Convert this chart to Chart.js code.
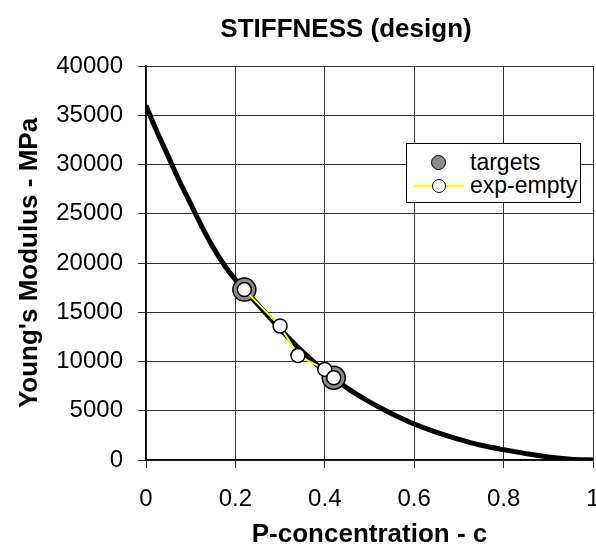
<!DOCTYPE html>
<html lang="en">
<head>
  <meta charset="UTF-8">
  <title>STIFFNESS (design)</title>
  <script src="https://cdn.jsdelivr.net/npm/chart.js"></script>
  <style>
    body { margin: 0; background: #fff; }
    #wrap { position: relative; width: 596px; height: 545px; overflow: hidden; font-family: Arial, "Liberation Sans", sans-serif; }
    #title {
      position: absolute; left: 346px; top: 13px; transform: translateX(-50%);
      font-size: 26px; font-weight: bold; white-space: nowrap; color: #000;
    }
    #legend {
      position: absolute; left: 406px; top: 143px; width: 175px; height: 60px;
      background: #fff; border: 1px solid #000; box-sizing: border-box;
      font-size: 23px; color: #000;
    }
    .row { position: absolute; left: 0; height: 24px; width: 100%; }
    .row span { position: absolute; left: 63px; top: -2px; white-space: nowrap; }
    .dot { position: absolute; border-radius: 50%; box-sizing: border-box; border: 1.5px solid #000; }
    .yline { position: absolute; left: 7px; width: 50px; height: 2px; background: #ffff00; top: 11px; }
  </style>
</head>
<body>
<div id="wrap">
  <canvas id="chart" width="596" height="545"></canvas>
  <div id="title">STIFFNESS (design)</div>
  <div id="legend">
    <div class="row" style="top:7px;">
      <div class="dot" style="left:24px; top:4px; width:15px; height:15px; background:#8c8c8c;"></div>
      <span>targets</span>
    </div>
    <div class="row" style="top:30px;">
      <div class="yline"></div>
      <div class="dot" style="left:25px; top:5px; width:14px; height:14px; background:#fff;"></div>
      <span>exp-empty</span>
    </div>
  </div>
</div>

<script>
  // design curve (P-concentration vs Young's modulus)
  const curveC = [0, 0.02, 0.05, 0.075, 0.1, 0.125, 0.15, 0.175, 0.2, 0.22, 0.25, 0.3, 0.35, 0.4, 0.42, 0.45, 0.5, 0.55, 0.6, 0.65, 0.7, 0.75, 0.8, 0.85, 0.9, 0.95, 1.0];
  const curveE = [36000, 33800, 30800, 28300, 26000, 23700, 21600, 19800, 18300, 17300, 15800, 13300, 11000, 9000, 8300, 7300, 5900, 4700, 3650, 2800, 2100, 1500, 1050, 650, 300, 80, 0];

  // targets
  const targetC = [0.22, 0.42];
  const targetE = [17300, 8350];

  // exp-empty
  const expC = [0.22, 0.30, 0.34, 0.40, 0.42];
  const expE = [17300, 13600, 10600, 9200, 8350];

  // ticks
  const xTicks = [0, 0.2, 0.4, 0.6, 0.8, 1];
  const yTicks = [0, 5000, 10000, 15000, 20000, 25000, 30000, 35000, 40000];

  const toPts = (xs, ys) => xs.map((x, i) => ({ x: x, y: ys[i] }));

  const tickFont = { family: 'Arial, "Liberation Sans", sans-serif', size: 24 };
  const xTitleFont = { family: 'Arial, "Liberation Sans", sans-serif', size: 26, weight: 'bold', lineHeight: 0.8 };
  const yTitleFont = { family: 'Arial, "Liberation Sans", sans-serif', size: 26, weight: 'bold', lineHeight: 1.0 };

  // in the original the plot runs almost to the right edge and the "1" label hangs over it,
  // so stretch the plot area back out after chart.js has made room for that label
  const RIGHT_GAP = 3;
  const stretchRight = {
    id: 'stretchRight',
    afterLayout(chart) {
      const area = chart.chartArea;
      const xs = chart.scales.x;
      const right = chart.width - RIGHT_GAP;
      area.right = right;
      area.width = right - area.left;
      xs.right = right;
      xs.width = right - xs.left;
      xs.configure();
    }
  };

  new Chart(document.getElementById('chart').getContext('2d'), {
    type: 'scatter',
    data: {
      datasets: [
        {
          label: 'design',
          data: toPts(curveC, curveE),
          showLine: true,
          borderColor: '#000',
          borderWidth: 5,
          pointRadius: 0,
          cubicInterpolationMode: 'monotone',
          order: 3
        },
        {
          label: 'targets',
          data: toPts(targetC, targetE),
          backgroundColor: '#8c8c8c',
          borderColor: '#000',
          borderWidth: 1.5,
          pointRadius: 11.5,
          order: 2
        },
        {
          label: 'exp-empty',
          data: toPts(expC, expE),
          showLine: true,
          borderColor: '#ffff00',
          borderWidth: 2,
          pointBackgroundColor: '#fff',
          pointBorderColor: '#000',
          pointBorderWidth: 1.5,
          pointRadius: 7,
          tension: 0,
          order: 1
        }
      ]
    },
    plugins: [stretchRight],
    options: {
      responsive: false,
      animation: false,
      layout: { padding: { top: 66, right: RIGHT_GAP, left: 0, bottom: 0 } },
      plugins: {
        legend: { display: false },
        title: { display: false },
        tooltip: { enabled: false }
      },
      scales: {
        x: {
          type: 'linear',
          min: 0,
          max: 1,
          afterFit: (s) => { s.height = 85; },
          afterBuildTicks: (s) => { s.ticks = xTicks.map(v => ({ value: v })); },
          ticks: {
            color: '#000',
            font: tickFont,
            padding: 17,
            maxRotation: 0,
            callback: (v) => String(v)
          },
          grid: { color: '#333', lineWidth: 1, tickLength: 8, tickColor: '#333' },
          border: { color: '#000', width: 1.5 },
          title: { display: true, text: 'P-concentration - c', color: '#000', font: xTitleFont, padding: { top: 0, bottom: 0 } }
        },
        y: {
          type: 'linear',
          min: 0,
          max: 40000,
          afterFit: (s) => { s.width = 146; },
          afterBuildTicks: (s) => { s.ticks = yTicks.map(v => ({ value: v })); },
          ticks: {
            color: '#000',
            font: tickFont,
            padding: 15,
            callback: (v) => String(v)
          },
          grid: { color: '#333', lineWidth: 1, tickLength: 8, tickColor: '#333' },
          border: { color: '#000', width: 1.5 },
          title: { display: true, text: "Young's Modulus - MPa", color: '#000', font: yTitleFont, padding: { top: 17, bottom: 0 } }
        }
      }
    }
  });
</script>
</body>
</html>
